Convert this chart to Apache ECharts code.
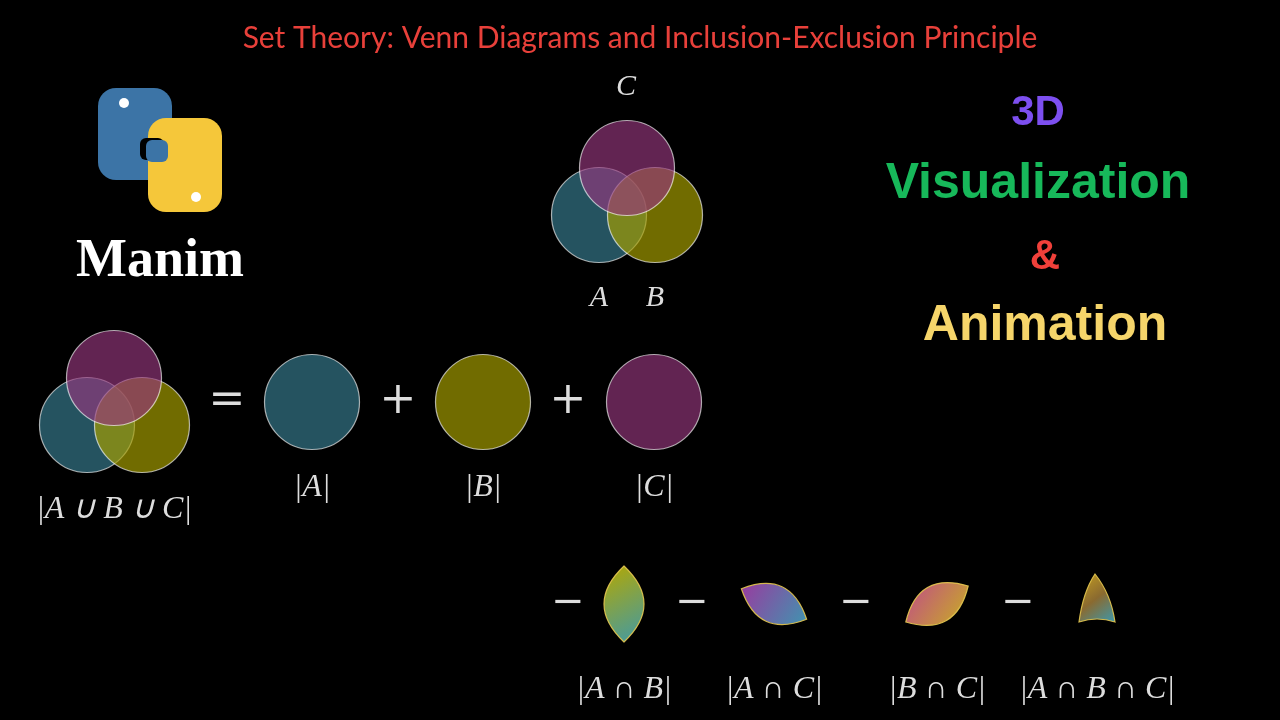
<!DOCTYPE html>
<html><head><meta charset="utf-8">
<script src="https://cdn.jsdelivr.net/npm/echarts@6/dist/echarts.min.js"></script>
<style>html,body{margin:0;background:#000}#c{width:1280px;height:720px}</style>
</head><body><div id="c"></div>
<script>
// Circle sets: [x, y, name]
const circleNames = ['A','B','C'];
const topVenn = [[599,215,'A'],[655,215,'B'],[627,168,'C']];
const leftVenn = [[87,425,'A'],[142,425,'B'],[114,378,'C']];
const singles = [[312,402,'A'],[483,402,'B'],[654,402,'C']];
// Lenses: [cx, cy, halfLength, halfWidth, angleDeg, colorFrom, colorTo]
const lenses = [
  [624,604,38,20,90,'#b5a800','#3f9aa8'],
  [774,604,36,19,25,'#9a3a9f','#3f95b0'],
  [937,604,36,19,-30,'#c04a8a','#c8b020']
];
const triangle = [1097,604];
const setColors = {A:'rgba(58,130,150,0.8)',B:'rgba(165,158,0,0.85)',C:'rgba(150,55,125,0.82)'};
const mathLabels = ['|A ∪ B ∪ C|','|A|','|B|','|C|','|A ∩ B|','|A ∩ C|','|B ∩ C|','|A ∩ B ∩ C|'];

const chart = echarts.init(document.getElementById('c'));
function circSeries(d){
  return {type:'scatter',data:d.map(p=>({value:[p[0],p[1]],itemStyle:{color:setColors[p[2]]}})),
    symbolSize:95,itemStyle:{borderColor:'rgba(255,255,255,0.8)',borderWidth:1.2},silent:true};
}
function lensPath(cx,cy,L,W,a){
  const r=a*Math.PI/180,c=Math.cos(r),s=Math.sin(r);
  const P=(u,v)=>[cx+u*c-v*s,cy+u*s+v*c];
  const p1=P(-L,0),p2=P(L,0),q1=P(0,2*W),q2=P(0,-2*W);
  return `M${p1}Q${q1} ${p2}Q${q2} ${p1}Z`;
}
const serif='"DejaVu Serif","Liberation Serif",serif';
const txt=(x,y,t,size,color,extra)=>Object.assign({type:'text',x:x,y:y,style:Object.assign({text:t,fill:color,font:`${size}px ${serif}`,textAlign:'center',textVerticalAlign:'middle'},extra||{})});
const italic=(x,y,t,s)=>txt(x,y,t,s||30,'#ddd',{font:`italic ${s||30}px "Liberation Serif",serif`});
const sans=(x,y,t,s,col)=>txt(x,y,t,s,col,{font:`bold ${s}px "Liberation Sans",Arial,sans-serif`});

chart.setOption({
  backgroundColor:'#000',
  animation:false,
  grid:{left:0,right:0,top:0,bottom:0},
  xAxis:{type:'value',min:0,max:1280,show:false},
  yAxis:{type:'value',min:0,max:720,inverse:true,show:false},
  series:[
    circSeries(topVenn),circSeries(leftVenn),circSeries(singles),
    {type:'custom',data:lenses,renderItem:(p,api)=>{
      const d=lenses[p.dataIndex];
      const a=api.coord([d[0],d[1]]);
      return {type:'path',shape:{pathData:lensPath(a[0],a[1],d[2],d[3],d[4])},
        style:{fill:new echarts.graphic.LinearGradient(0,0,1,1,[{offset:0,color:d[5]},{offset:1,color:d[6]}]),stroke:'rgba(230,200,80,0.9)',lineWidth:1.2}};
    }},
    {type:'custom',data:[triangle],renderItem:(p,api)=>{
      const a=api.coord(triangle);const x=a[0],y=a[1];
      return {type:'path',shape:{pathData:`M${x-18},${y+18}Q${x-14},${y-12} ${x-2},${y-30}Q${x+14},${y-10} ${x+18},${y+18}Q${x},${y+12} ${x-18},${y+18}Z`},
        style:{fill:new echarts.graphic.LinearGradient(0,0,1,1,[{offset:0,color:'#c8a020'},{offset:0.5,color:'#8a6a30'},{offset:1,color:'#3a9ab0'}]),stroke:'rgba(230,200,80,0.9)',lineWidth:1.2}};
    }}
  ],
  graphic:[
    txt(640,38,'Set Theory: Venn Diagrams and Inclusion-Exclusion Principle',31,'#e8403a',{font:'30px Lato,"Noto Sans",sans-serif'}),
    // python logo
    {type:'rect',shape:{x:98,y:88,width:74,height:92,r:18},style:{fill:'#3c74a6'}},
    {type:'rect',shape:{x:148,y:118,width:74,height:94,r:18},style:{fill:'#f5c73a'}},
    {type:'rect',shape:{x:140,y:138,width:24,height:22,r:6},style:{fill:'#000'}},
    {type:'rect',shape:{x:146,y:140,width:22,height:22,r:6},style:{fill:'#3c74a6'}},
    {type:'circle',shape:{cx:124,cy:103,r:5},style:{fill:'#fff'}},
    {type:'circle',shape:{cx:196,cy:197,r:5},style:{fill:'#fff'}},
    txt(160,262,'Manim',56,'#fff',{font:'bold 54px "Liberation Serif",serif'}),
    sans(1038,113,'3D',42,'#7d4ff0'),
    sans(1038,184,'Visualization',50,'#17b85a'),
    sans(1045,257,'&',42,'#f0403a'),
    sans(1045,326,'Animation',50,'#f6d56a'),
    italic(626,87,'C'),italic(599,298,'A'),italic(655,298,'B'),
    txt(227,402,'=',44,'#ddd'),txt(398,402,'+',44,'#ddd'),txt(568,402,'+',44,'#ddd'),
    txt(568,604,'−',40,'#ddd'),txt(692,604,'−',40,'#ddd'),txt(856,604,'−',40,'#ddd'),txt(1018,604,'−',40,'#ddd'),
    italic(114,510,mathLabels[0],32),italic(312,488,mathLabels[1],32),italic(483,488,mathLabels[2],32),italic(654,488,mathLabels[3],32),
    italic(624,690,mathLabels[4],32),italic(774,690,mathLabels[5],32),italic(937,690,mathLabels[6],32),italic(1097,690,mathLabels[7],32)
  ]
});
</script></body></html>
